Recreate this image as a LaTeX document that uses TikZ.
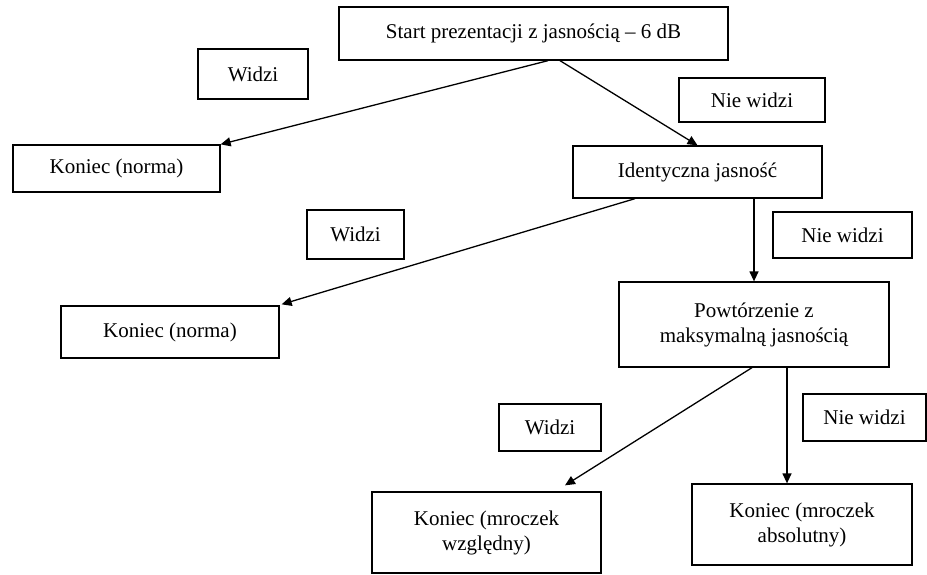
\documentclass[tikz,border=0pt]{standalone}
\usepackage{fontspec}
\setmainfont{Liberation Serif}
\usetikzlibrary{arrows.meta}
\begin{document}
\begin{tikzpicture}[x=1pt,y=-1pt,
  box/.style={draw, line width=1.3pt, rectangle, inner sep=0pt, align=center,
    font=\fontsize{21}{25}\selectfont},
  arr/.style={line width=1.3pt, -{Triangle[length=10pt,width=9pt]}}]
\useasboundingbox (0,0) rectangle (927,574);
% boxes: centre, width, height from pixel extents
\node[box, minimum width=389pt, minimum height=53pt] (start) at (533.5,33.5) {Start prezentacji z jasnością – 6 dB};
\node[box, minimum width=110pt, minimum height=50pt] (w1) at (253,74) {Widzi};
\node[box, minimum width=146pt, minimum height=44pt] (nw1) at (752,100) {Nie widzi};
\node[box, minimum width=207pt, minimum height=47pt] (k1) at (116.5,168.5) {Koniec (norma)};
\node[box, minimum width=249pt, minimum height=52pt] (ident) at (697.5,172) {Identyczna jasność};
\node[box, minimum width=97pt, minimum height=49pt] (w2) at (355.5,234.5) {Widzi};
\node[box, minimum width=139pt, minimum height=46pt] (nw2) at (842.5,235) {Nie widzi};
\node[box, minimum width=218pt, minimum height=52pt] (k2) at (170,332) {Koniec (norma)};
\node[box, minimum width=270pt, minimum height=85pt] (powt) at (754,324.5) {Powtórzenie z\\maksymalną jasnością};
\node[box, minimum width=102pt, minimum height=47pt] (w3) at (550,427.5) {Widzi};
\node[box, minimum width=123pt, minimum height=47pt] (nw3) at (864.5,417.5) {Nie widzi};
\node[box, minimum width=229pt, minimum height=81pt] (k3) at (486.5,532.5) {Koniec (mroczek\\względny)};
\node[box, minimum width=220pt, minimum height=81pt] (k4) at (802,524.5) {Koniec (mroczek\\absolutny)};
% connectors
\draw[arr] ([xshift=14.5pt]start.south) -- (k1.north east);
\draw[arr] ([xshift=26.5pt]start.south) -- (ident.north);
\coordinate (p2) at (ident.south -| powt.north);
\draw[arr] (p2) -- (powt.north);
\draw[arr] ([xshift=-62.5pt]ident.south) -- ([xshift=2pt,yshift=1pt]k2.north east);
\draw[arr] ([xshift=-2pt]powt.south) -- ([xshift=78.5pt,yshift=6pt]k3.north);
\coordinate (p4) at ([xshift=33pt]powt.south);
\draw[arr] (p4) -- (p4 |- k4.north);
\end{tikzpicture}
\end{document}
